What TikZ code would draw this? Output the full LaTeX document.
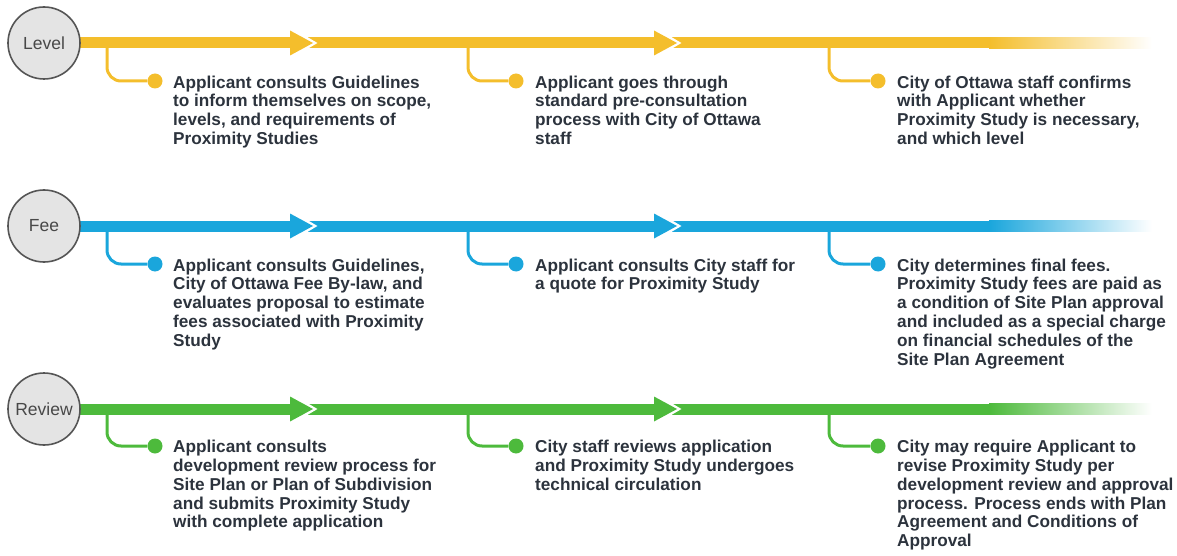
\documentclass[tikz,border=0pt]{standalone}
\usepackage{fontspec}
\setmainfont{Liberation Sans}
\definecolor{cyel}{HTML}{F4BE2C}
\definecolor{cblu}{HTML}{1AA6DC}
\definecolor{cgrn}{HTML}{4DBA3C}
\definecolor{ctxt}{HTML}{2C333D}
\definecolor{ccirc}{HTML}{E4E4E4}
\definecolor{cedge}{HTML}{555555}
\tikzset{
  stage/.style={circle, draw=cedge, line width=1.6pt, fill=ccirc, minimum size=72pt, inner sep=0pt,
    font=\fontsize{17.5}{20}\selectfont, text=cedge!85!black},
  dotnode/.style={circle, fill=#1, minimum size=15pt, inner sep=0pt},
  desc/.style={anchor=north west, inner sep=0pt, align=left, text=ctxt,
    font=\bfseries\fontsize{17.2}{18.8}\selectfont},
  branch/.style={draw=#1, line width=3pt, rounded corners=14pt},
}
% #1 prefix, #2 label, #3 colour, #4 bar y, #5 branch y, #6 text top y, #7 #8 #9 texts
\newcommand\myrow[9]{%
  \fill[#3] (60,#4-5.5) rectangle (990,#4+5.5);
  \shade[left color=#3, right color=white] (989,#4-5.5) rectangle (1152,#4+5.5);
  \foreach \tx in {313,677}{
    \draw[white, line width=3pt, line join=miter] (\tx-22,#4-14) -- (\tx+1.5,#4) -- (\tx-22,#4+14);
    \fill[#3] (\tx-23,#4-12.5) -- (\tx,#4) -- (\tx-23,#4+12.5) -- cycle;
  }
  \node[stage] (#1c) at (44,#4) {#2};
  \coordinate (#1b1) at (107,#4);
  \coordinate (#1b2) at (468,#4);
  \coordinate (#1b3) at (829,#4);
  \node[dotnode=#3] (#1d1) at (155,#5) {};
  \node[dotnode=#3] (#1d2) at (516,#5) {};
  \node[dotnode=#3] (#1d3) at (878,#5) {};
  \draw[branch=#3] (#1b1) |- (#1d1);
  \draw[branch=#3] (#1b2) |- (#1d2);
  \draw[branch=#3] (#1b3) |- (#1d3);
  \node[desc] (#1t1) at (173,#6) {#7};
  \node[desc] (#1t2) at (535,#6) {#8};
  \node[desc] (#1t3) at (897,#6) {#9};
}
\begin{document}
\begin{tikzpicture}[x=1pt,y=-1pt]
\useasboundingbox (0,0) rectangle (1177,556);
\myrow{l}{Level}{cyel}{43}{81}{75.5}
  {Applicant consults Guidelines\\to inform themselves on scope,\\levels, and requirements of\\Proximity Studies}
  {Applicant goes through\\standard pre-consultation\\process with City of Ottawa\\staff}
  {City of Ottawa staff confirms\\with Applicant whether\\Proximity Study is necessary,\\and which level}
\myrow{f}{Fee}{cblu}{226}{264}{258.5}
  {Applicant consults Guidelines,\\City of Ottawa Fee By-law, and\\evaluates proposal to estimate\\fees associated with Proximity\\Study}
  {Applicant consults City staff for\\a quote for Proximity Study}
  {City determines final fees.\\Proximity Study fees are paid as\\a condition of Site Plan approval\\and included as a special charge\\on financial schedules of the\\Site Plan Agreement}
\myrow{r}{Review}{cgrn}{409}{446}{440}
  {Applicant consults\\development review process for\\Site Plan or Plan of Subdivision\\and submits Proximity Study\\with complete application}
  {City staff reviews application\\and Proximity Study undergoes\\technical circulation}
  {City may require Applicant to\\revise Proximity Study per\\development review and approval\\process. Process ends with Plan\\Agreement and Conditions of\\Approval}
\end{tikzpicture}
\end{document}
